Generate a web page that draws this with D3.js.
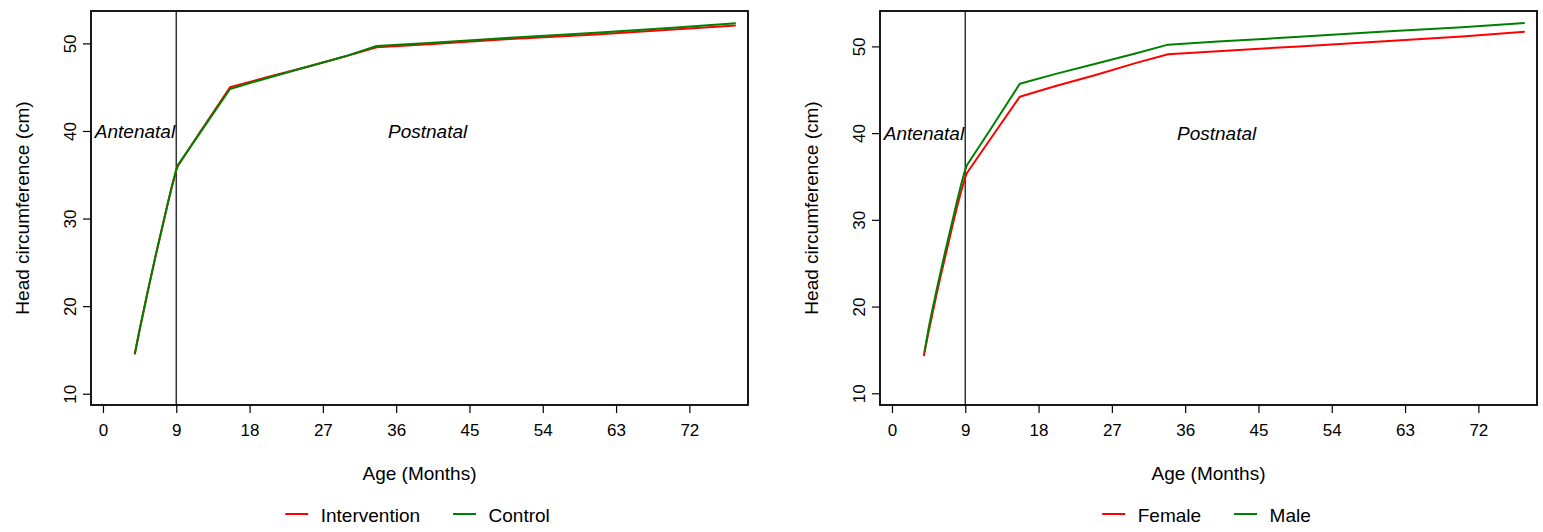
<!DOCTYPE html>
<html>
<head>
<meta charset="utf-8">
<script src="https://cdn.jsdelivr.net/npm/d3@7"></script>
<style>
    body { margin: 0; background: #fff; }
    svg { display: block; }
    text { font-family: "Liberation Sans", Arial, sans-serif; fill: #000; }
</style>
</head>
<body>
<div id="chart"></div>
<script>

// tick values
var ageTicks = [0, 9, 18, 27, 36, 45, 54, 63, 72];
var hcTicks = [10, 20, 30, 40, 50];

// left panel: intervention vs control
var interventionAge = [3.9, 4.5, 5, 5.5, 6, 6.5, 7, 7.5, 8, 8.5, 9, 9.2, 12, 15.6, 20, 25, 30, 33.6, 40, 50, 60, 70, 77.7];
var interventionHc  = [14.5, 17.3, 19.5, 21.7, 23.8, 25.9, 27.9, 29.9, 31.9, 33.8, 35.5, 36.0, 40.0, 45.0, 46.1, 47.3, 48.6, 49.55, 49.9, 50.5, 51.0, 51.6, 52.05];
var controlAge = [3.9, 4.5, 5, 5.5, 6, 6.5, 7, 7.5, 8, 8.5, 9, 9.2, 12, 15.6, 20, 25, 30, 33.6, 40, 50, 60, 70, 77.7];
var controlHc  = [14.5, 17.3, 19.5, 21.7, 23.8, 25.9, 27.9, 29.9, 31.9, 33.8, 35.6, 36.1, 39.9, 44.8, 46.0, 47.3, 48.6, 49.7, 50.05, 50.65, 51.2, 51.8, 52.3];

// right panel: female vs male
var femaleAge = [3.9, 4.5, 5, 5.5, 6, 6.5, 7, 7.5, 8, 8.5, 9, 9.2, 12, 15.7, 20, 25, 30, 33.9, 40, 50, 60, 70, 77.7];
var femaleHc  = [14.3, 17.1, 19.3, 21.5, 23.6, 25.6, 27.6, 29.6, 31.5, 33.3, 34.9, 35.4, 39.2, 44.2, 45.4, 46.7, 48.1, 49.1, 49.45, 50.0, 50.55, 51.15, 51.7];
var maleAge = [4.0, 4.5, 5, 5.5, 6, 6.5, 7, 7.5, 8, 8.5, 9, 9.2, 12, 15.7, 20, 25, 30, 33.9, 40, 50, 60, 70, 77.7];
var maleHc  = [14.8, 17.5, 19.8, 22.0, 24.1, 26.2, 28.2, 30.2, 32.2, 34.1, 35.8, 36.3, 40.3, 45.7, 46.8, 48.0, 49.2, 50.2, 50.55, 51.1, 51.7, 52.2, 52.7];

var svg = d3.select("#chart").append("svg")
    .attr("width", 1543)
    .attr("height", 532);

svg.append("rect").attr("width", 1543).attr("height", 532).attr("fill", "#fff");

/**
 * GrowthVis - one panel
 */
GrowthVis = function(_svg, _left, _yDomain, _series){
    this.svg = _svg;
    this.left = _left;
    this.top = 11;
    this.width = 657;
    this.height = 394;
    this.yDomain = _yDomain;
    this.series = _series;

    this.initVis();
}

GrowthVis.prototype.initVis = function(){
    this.g = this.svg.append("g")
        .attr("transform", "translate(" + this.left + "," + this.top + ")");

    this.x = d3.scaleLinear().domain([-1.47, 79.2]).range([0, this.width]);
    this.y = d3.scaleLinear().domain(this.yDomain).range([this.height, 0]);

    this.updateVis();
}

GrowthVis.prototype.updateVis = function(){
    var that = this;
    var x = this.x, y = this.y;

    // x axis
    var xAxis = this.g.append("g")
        .attr("transform", "translate(0," + this.height + ")")
        .call(d3.axisBottom(x).tickValues(ageTicks).tickSize(8).tickFormat(d3.format("d")));
    xAxis.select(".domain").remove();
    xAxis.selectAll("line").attr("stroke", "#000").attr("stroke-width", 1.2);
    xAxis.selectAll("text")
        .attr("y", 31).attr("dy", null)
        .style("font-size", "17px").style("font-family", "Liberation Sans, Arial, sans-serif");

    // y axis
    var yAxis = this.g.append("g")
        .call(d3.axisLeft(y).tickValues(hcTicks).tickSize(8));
    yAxis.select(".domain").remove();
    yAxis.selectAll("line").attr("stroke", "#000").attr("stroke-width", 1.2);
    yAxis.selectAll("text")
        .attr("x", 0).attr("dy", null)
        .attr("transform", "translate(-15,0) rotate(-90)")
        .attr("text-anchor", "middle")
        .style("font-size", "17px").style("font-family", "Liberation Sans, Arial, sans-serif");

    // vertical line at 9 months
    this.g.append("line")
        .attr("x1", x(9)).attr("x2", x(9))
        .attr("y1", 0).attr("y2", this.height)
        .attr("stroke", "#333").attr("stroke-width", 1.5);

    // period labels
    this.g.append("text")
        .attr("x", x(-1)).attr("y", y(40)).attr("dy", "0.35em")
        .style("font-size", "19px").style("font-style", "italic")
        .text("Antenatal");
    this.g.append("text")
        .attr("x", x(35)).attr("y", y(40)).attr("dy", "0.35em")
        .style("font-size", "19px").style("font-style", "italic")
        .text("Postnatal");

    // lines
    var line = d3.line().x(function(d){ return x(d[0]); }).y(function(d){ return y(d[1]); });
    this.series.forEach(function(s){
        that.g.append("path")
            .datum(d3.zip(s.ages, s.values))
            .attr("fill", "none")
            .attr("stroke", s.color)
            .attr("stroke-width", 2)
            .attr("stroke-linejoin", "round")
            .attr("d", line);
    });

    // box
    this.g.append("rect")
        .attr("width", this.width).attr("height", this.height)
        .attr("fill", "none").attr("stroke", "#000").attr("stroke-width", 1.8);

    // axis titles
    this.g.append("text")
        .attr("x", this.width / 2).attr("y", 469)
        .attr("text-anchor", "middle")
        .style("font-size", "19px")
        .text("Age (Months)");
    this.g.append("text")
        .attr("transform", "translate(-62," + (this.height / 2) + ") rotate(-90)")
        .attr("text-anchor", "middle")
        .style("font-size", "19px")
        .text("Head circumference (cm)");

    // legend, centred under the plot
    var leg = this.g.append("g");
    var cursor = 0;
    this.series.forEach(function(s){
        var it = leg.append("g");
        it.append("line")
            .attr("x1", 0).attr("x2", 23).attr("y1", 0).attr("y2", 0)
            .attr("stroke", s.color).attr("stroke-width", 2);
        var t = it.append("text")
            .attr("x", 35.5).attr("y", 8)
            .style("font-size", "19px")
            .text(s.name);
        var w = 35.5 + t.node().getComputedTextLength();
        it.attr("transform", "translate(" + cursor + ",0)");
        cursor += w + 33;
    });
    var total = cursor - 33;
    leg.attr("transform", "translate(" + (this.width / 2 - 2 - total / 2) + ",503)");
};

var leftVis = new GrowthVis(svg, 91, [8.71, 53.7], [
    {name: "Intervention", color: "#ff0000", ages: interventionAge, values: interventionHc},
    {name: "Control", color: "#008000", ages: controlAge, values: controlHc}
]);

var rightVis = new GrowthVis(svg, 880, [8.65, 54.08], [
    {name: "Female", color: "#ff0000", ages: femaleAge, values: femaleHc},
    {name: "Male", color: "#008000", ages: maleAge, values: maleHc}
]);

</script>
</body>
</html>
